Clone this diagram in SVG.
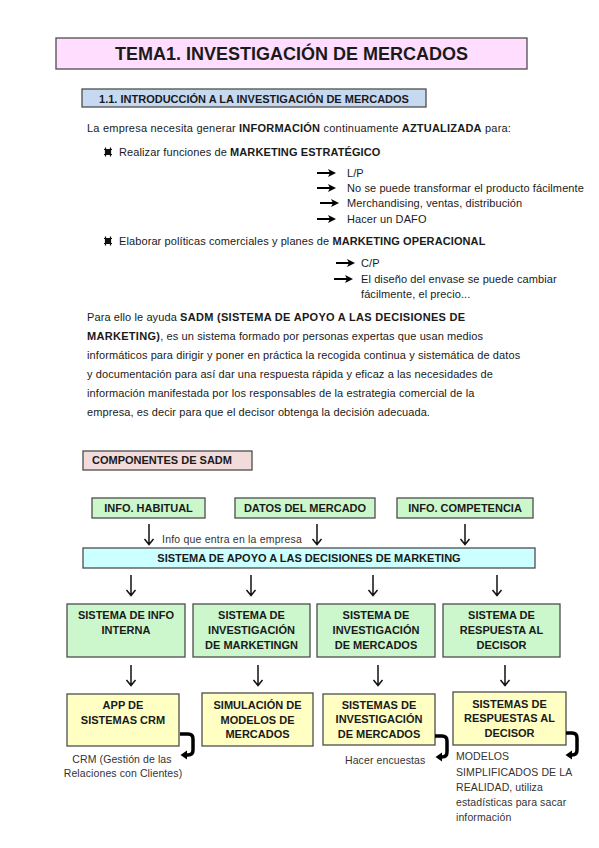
<svg xmlns="http://www.w3.org/2000/svg" width="599" height="848" viewBox="0 0 599 848">
<style>
text{font-family:"Liberation Sans",Arial,sans-serif;fill:#1a1a1a}
.t{font-size:11px;letter-spacing:0.1px}
.b{font-weight:bold}
.bw{font-weight:bold;letter-spacing:0.3px}
.c{text-anchor:middle}
.cap{font-size:10.5px;fill:#333;letter-spacing:0.1px}
.lbl{font-size:11px;font-weight:bold;text-anchor:middle}
.bx{stroke:#4d4d4d;stroke-width:1.3}
.pink{fill:#FFDDFF}
.blue{fill:#C6D9F1}
.rose{fill:#F2DCDB}
.green{fill:#CCF7CC}
.cyan{fill:#CCFFFF}
.yel{fill:#FFFFC4}
.dn{stroke:#111;stroke-width:1.5;fill:none}
.brk{stroke:#000;stroke-width:3.5;fill:none;stroke-linejoin:round}
</style>
<defs>
<g id="bul">
<path d="M-2.5,-4.5V4.5M2.5,-4.5V4.5M-4,-2.5H4M-4,2.5H4" stroke="#111" stroke-width="1.2" fill="none"/>
<rect x="-2.5" y="-2.5" width="5" height="5" fill="#111"/>
</g>
<g id="ra">
<path d="M0,0H13" stroke="#000" stroke-width="2"/>
<polygon points="11,-4 19,0 11,4 13,0" fill="#000"/>
</g>
<g id="da">
<path d="M0,0V20M-4.5,15L0,20.5L4.5,15" class="dn"/>
</g>
</defs>

<g id="title">
<rect class="bx pink" x="56" y="38" width="471" height="31" stroke-width="1.6"/>
<text class="b c" x="291.5" y="60" font-size="18">TEMA1. INVESTIGACIÓN DE MERCADOS</text>
</g>

<g id="section">
<rect class="bx blue" x="82" y="89" width="344" height="18"/>
<text class="b c" x="254" y="103" font-size="11">1.1. INTRODUCCIÓN A LA INVESTIGACIÓN DE MERCADOS</text>
</g>

<g id="intro">
<text class="t" x="87" y="132" textLength="424" lengthAdjust="spacing">La empresa necesita generar <tspan class="b">INFORMACIÓN</tspan> continuamente <tspan class="b">AZTUALIZADA</tspan> para:</text>
<use href="#bul" x="108" y="152"/>
<text class="t" x="119" y="156">Realizar funciones de <tspan class="b">MARKETING ESTRATÉGICO</tspan></text>
<use href="#ra" x="317" y="173"/>
<text class="t" x="347" y="177">L/P</text>
<use href="#ra" x="317" y="188"/>
<text class="t" x="347" y="192">No se puede transformar el producto fácilmente</text>
<use href="#ra" x="320" y="203"/>
<text class="t" x="347" y="207">Merchandising, ventas, distribución</text>
<use href="#ra" x="317" y="219"/>
<text class="t" x="347" y="223">Hacer un DAFO</text>
<use href="#bul" x="108" y="241"/>
<text class="t" x="119" y="245">Elaborar políticas comerciales y planes de <tspan class="b">MARKETING OPERACIONAL</tspan></text>
<use href="#ra" x="336" y="263"/>
<text class="t" x="361" y="267">C/P</text>
<use href="#ra" x="334" y="279"/>
<text class="t" x="361" y="283">El diseño del envase se puede cambiar</text>
<text class="t" x="361" y="298">fácilmente, el precio...</text>
</g>

<g id="paragraph">
<text class="t" x="87" y="321">Para ello le ayuda <tspan class="bw">SADM (SISTEMA DE APOYO A LAS DECISIONES DE</tspan></text>
<text class="t" x="87" y="340"><tspan class="bw">MARKETING)</tspan>, es un sistema formado por personas expertas que usan medios</text>
<text class="t" x="87" y="359">informáticos para dirigir y poner en práctica la recogida continua y sistemática de datos</text>
<text class="t" x="87" y="378">y documentación para así dar una respuesta rápida y eficaz a las necesidades de</text>
<text class="t" x="87" y="397">información manifestada por los responsables de la estrategia comercial de la</text>
<text class="t" x="87" y="416">empresa, es decir para que el decisor obtenga la decisión adecuada.</text>
</g>

<g id="componentes">
<rect class="bx rose" x="83" y="451" width="169" height="19"/>
<text class="b" x="92" y="464" font-size="11">COMPONENTES DE SADM</text>
</g>

<g id="info-habitual">
<rect class="bx green" x="92" y="498" width="113" height="20"/>
<text class="lbl" x="148.5" y="512">INFO. HABITUAL</text>
</g>
<g id="datos-mercado">
<rect class="bx green" x="235" y="498" width="140" height="20"/>
<text class="lbl" x="305" y="512">DATOS DEL MERCADO</text>
</g>
<g id="info-competencia">
<rect class="bx green" x="397" y="498" width="136" height="20"/>
<text class="lbl" x="465" y="512">INFO. COMPETENCIA</text>
</g>

<g id="sadm">
<rect class="bx cyan" x="83" y="548" width="452" height="20"/>
<text class="lbl" x="309" y="562">SISTEMA DE APOYO A LAS DECISIONES DE MARKETING</text>
</g>

<g id="sis-info-interna">
<rect class="bx green" x="67" y="604" width="118" height="53"/>
<text class="lbl" x="126" y="619">SISTEMA DE INFO</text>
<text class="lbl" x="126" y="634">INTERNA</text>
</g>
<g id="sis-inv-marketing">
<rect class="bx green" x="193" y="604" width="117" height="53"/>
<text class="lbl" x="251.5" y="619">SISTEMA DE</text>
<text class="lbl" x="251.5" y="634">INVESTIGACIÓN</text>
<text class="lbl" x="251.5" y="649">DE MARKETINGN</text>
</g>
<g id="sis-inv-mercados">
<rect class="bx green" x="317" y="604" width="118" height="53"/>
<text class="lbl" x="376" y="619">SISTEMA DE</text>
<text class="lbl" x="376" y="634">INVESTIGACIÓN</text>
<text class="lbl" x="376" y="649">DE MERCADOS</text>
</g>
<g id="sis-respuesta">
<rect class="bx green" x="443" y="604" width="117" height="53"/>
<text class="lbl" x="501.5" y="619">SISTEMA DE</text>
<text class="lbl" x="501.5" y="634">RESPUESTA AL</text>
<text class="lbl" x="501.5" y="649">DECISOR</text>
</g>

<g id="app-crm">
<rect class="bx yel" x="67" y="694" width="112" height="52"/>
<text class="lbl" x="123" y="709">APP DE</text>
<text class="lbl" x="123" y="724">SISTEMAS CRM</text>
</g>
<g id="simulacion">
<rect class="bx yel" x="202" y="693" width="111" height="53"/>
<text class="lbl" x="257.5" y="709">SIMULACIÓN DE</text>
<text class="lbl" x="257.5" y="724">MODELOS DE</text>
<text class="lbl" x="257.5" y="738">MERCADOS</text>
</g>
<g id="sistemas-inv-mercados">
<rect class="bx yel" x="323" y="694" width="112" height="51"/>
<text class="lbl" x="379" y="709">SISTEMAS DE</text>
<text class="lbl" x="379" y="723">INVESTIGACIÓN</text>
<text class="lbl" x="379" y="738">DE MERCADOS</text>
</g>
<g id="sistemas-respuestas">
<rect class="bx yel" x="453" y="692" width="113" height="53"/>
<text class="lbl" x="509.5" y="708">SISTEMAS DE</text>
<text class="lbl" x="509.5" y="722">RESPUESTAS AL</text>
<text class="lbl" x="509.5" y="737">DECISOR</text>
</g>

<g id="notes">
<text class="cap" x="162" y="543" textLength="140" lengthAdjust="spacing">Info que entra en la empresa</text>
<text class="cap c" x="122" y="763">CRM (Gestión de las</text>
<text class="cap c" x="123" y="777">Relaciones con Clientes)</text>
<text class="cap" x="345" y="764">Hacer encuestas</text>
<text class="cap" x="456" y="760">MODELOS</text>
<text class="cap" x="456" y="776">SIMPLIFICADOS DE LA</text>
<text class="cap" x="456" y="791">REALIDAD, utiliza</text>
<text class="cap" x="456" y="806">estadísticas para sacar</text>
<text class="cap" x="456" y="821">información</text>
</g>

<g id="connectors">
<use href="#da" x="149" y="524"/>
<use href="#da" x="317" y="524"/>
<use href="#da" x="465" y="524"/>
<use href="#da" x="131" y="575"/>
<use href="#da" x="251" y="575"/>
<use href="#da" x="373" y="575"/>
<use href="#da" x="497" y="575"/>
<use href="#da" x="131" y="665"/>
<use href="#da" x="258" y="665"/>
<use href="#da" x="378" y="665"/>
<use href="#da" x="505" y="665"/>
<path class="brk" d="M180,734H188Q193,734 193,739V750Q193,755 188,755H186"/>
<polygon points="187,750.5 180.5,755 187,759.5" fill="#000"/>
<path class="brk" d="M435,736H442Q447,736 447,741V752Q447,757 442,757H441"/>
<polygon points="442,752.5 435.5,757 442,761.5" fill="#000"/>
<path class="brk" d="M566,733H572Q577,733 577,738V750Q577,755 572,755H571"/>
<polygon points="572,750.5 565.5,755 572,759.5" fill="#000"/>
</g>
</svg>
